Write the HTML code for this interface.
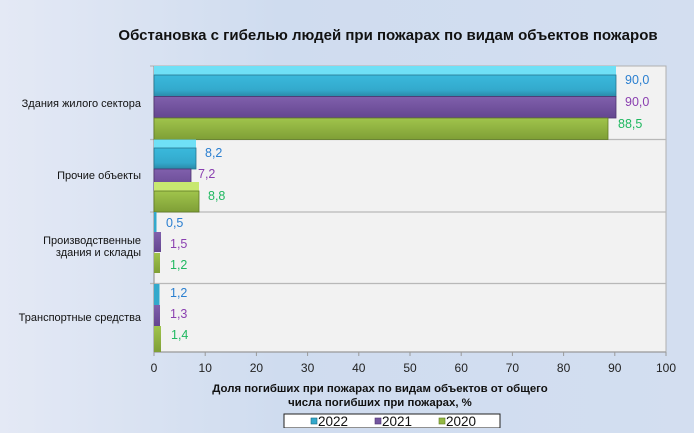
<!DOCTYPE html>
<html><head><meta charset="utf-8"><style>
html,body{margin:0;padding:0;}
body{width:694px;height:428px;overflow:hidden;background:linear-gradient(90deg,#e4e9f5 0%,#cfdcef 40%,#d3def0 100%);font-family:"Liberation Sans",sans-serif;}
</style></head><body>
<svg width="694" height="428" xmlns="http://www.w3.org/2000/svg" font-family="Liberation Sans, sans-serif">
<defs>
<linearGradient id="gc" x1="0" y1="0" x2="0" y2="1"><stop offset="0" stop-color="#3ab9dc"/><stop offset="0.7" stop-color="#33a9cc"/><stop offset="1" stop-color="#2a8aa8"/></linearGradient>
<linearGradient id="gp" x1="0" y1="0" x2="0" y2="1"><stop offset="0" stop-color="#8060ac"/><stop offset="1" stop-color="#644690"/></linearGradient>
<linearGradient id="gg" x1="0" y1="0" x2="0" y2="1"><stop offset="0" stop-color="#a0c44c"/><stop offset="1" stop-color="#7f9f36"/></linearGradient>
</defs>
<text x="388" y="40" text-anchor="middle" font-size="15" font-weight="bold" fill="#111">Обстановка с гибелью людей при пожарах по видам объектов пожаров</text>
<rect x="154" y="66" width="512" height="286" fill="#f2f2f2" stroke="#b0b0b0" stroke-width="1"/>
<g stroke="#b8b8b8" stroke-width="1.2">
<line x1="150" y1="139.5" x2="666" y2="139.5"/>
<line x1="150" y1="212" x2="666" y2="212"/>
<line x1="150" y1="283.5" x2="666" y2="283.5"/>
<line x1="150" y1="66" x2="154" y2="66"/>
<line x1="154" y1="352" x2="666" y2="352" stroke="#999"/>
<line x1="154" y1="66" x2="154" y2="352" stroke="#999"/>
</g>
<g stroke="#999">
<line x1="154" y1="352" x2="154" y2="356"/><line x1="205.2" y1="352" x2="205.2" y2="356"/><line x1="256.4" y1="352" x2="256.4" y2="356"/><line x1="307.6" y1="352" x2="307.6" y2="356"/><line x1="358.8" y1="352" x2="358.8" y2="356"/><line x1="410" y1="352" x2="410" y2="356"/><line x1="461.2" y1="352" x2="461.2" y2="356"/><line x1="512.4" y1="352" x2="512.4" y2="356"/><line x1="563.6" y1="352" x2="563.6" y2="356"/><line x1="614.8" y1="352" x2="614.8" y2="356"/><line x1="666" y1="352" x2="666" y2="356"/>
</g>
<g font-size="12" fill="#222" text-anchor="middle">
<text x="154" y="372">0</text><text x="205.2" y="372">10</text><text x="256.4" y="372">20</text><text x="307.6" y="372">30</text><text x="358.8" y="372">40</text><text x="410" y="372">50</text><text x="461.2" y="372">60</text><text x="512.4" y="372">70</text><text x="563.6" y="372">80</text><text x="614.8" y="372">90</text><text x="666" y="372">100</text>
</g>
<g font-size="11.4" font-weight="bold" fill="#111" text-anchor="middle">
<text x="380" y="392">Доля погибших при пожарах по видам объектов от общего</text>
<text x="380" y="406">числа погибших при пожарах, %</text>
</g>
<g font-size="11" fill="#111" text-anchor="end">
<text x="141" y="107">Здания жилого сектора</text>
<text x="141" y="179">Прочие объекты</text>
<text x="141" y="244">Производственные</text>
<text x="141" y="256">здания и склады</text>
<text x="141" y="321">Транспортные средства</text>
</g>
<polygon points="154,66 616,66 616,75 154,75" fill="#6fe0f6"/>
<rect x="154" y="75" width="462" height="21.5" fill="url(#gc)" stroke="#25758f" stroke-width="0.8"/>
<rect x="154" y="96.5" width="462" height="21.5" fill="url(#gp)" stroke="#4e3470" stroke-width="0.8"/>
<rect x="154" y="118" width="454" height="21.5" fill="url(#gg)" stroke="#5f7a25" stroke-width="0.8"/>
<polygon points="154,139.5 196,139.5 196,148 154,148" fill="#6fe0f6"/>
<rect x="154" y="148" width="42" height="21" fill="url(#gc)" stroke="#25758f" stroke-width="0.8"/>
<rect x="154" y="169" width="37" height="22" fill="url(#gp)" stroke="#4e3470" stroke-width="0.8"/>
<polygon points="154,182 199,182 199,191 154,191" fill="#c8e870"/>
<rect x="154" y="191" width="45" height="21" fill="url(#gg)" stroke="#5f7a25" stroke-width="0.8"/>
<rect x="154" y="212" width="2.5" height="29" fill="#33a9cc"/>
<rect x="154" y="232" width="7" height="20" fill="url(#gp)"/>
<rect x="154" y="253" width="6" height="20" fill="url(#gg)"/>
<rect x="154" y="284" width="5.5" height="28" fill="#33a9cc"/>
<rect x="154" y="305" width="6" height="21" fill="url(#gp)"/>
<rect x="154" y="326" width="7" height="26" fill="url(#gg)"/>
<g font-size="12.5">
<text x="625" y="84" fill="#2a7fd0">90,0</text>
<text x="625" y="106" fill="#8a3fb0">90,0</text>
<text x="618" y="128" fill="#1fb860">88,5</text>
<text x="205" y="157" fill="#2a7fd0">8,2</text>
<text x="198" y="178" fill="#8a3fb0">7,2</text>
<text x="208" y="200" fill="#1fb860">8,8</text>
<text x="166" y="227" fill="#2a7fd0">0,5</text>
<text x="170" y="248" fill="#8a3fb0">1,5</text>
<text x="170" y="269" fill="#1fb860">1,2</text>
<text x="170" y="297" fill="#2a7fd0">1,2</text>
<text x="170" y="318" fill="#8a3fb0">1,3</text>
<text x="171" y="339" fill="#1fb860">1,4</text>
</g>
<rect x="284" y="414" width="216" height="14" fill="#fff" stroke="#222" stroke-width="1"/>
<rect x="311" y="418" width="6" height="6" fill="#33a9cc" stroke="#1d6b80" stroke-width="0.6"/>
<text x="318" y="426" font-size="13.5" fill="#111">2022</text>
<rect x="375" y="418" width="6" height="6" fill="#7456a0" stroke="#4e3470" stroke-width="0.6"/>
<text x="382" y="426" font-size="13.5" fill="#111">2021</text>
<rect x="439" y="418" width="6" height="6" fill="#93b843" stroke="#5f7a25" stroke-width="0.6"/>
<text x="446" y="426" font-size="13.5" fill="#111">2020</text>
</svg>
</body></html>
